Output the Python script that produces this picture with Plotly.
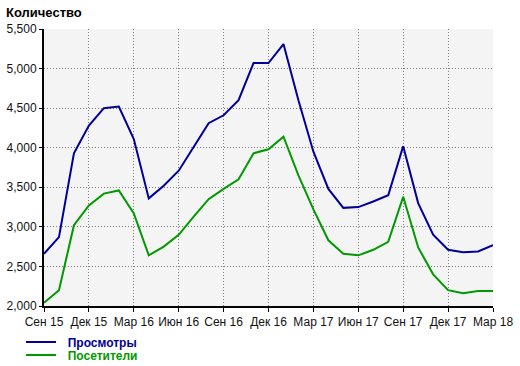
import plotly.graph_objects as go

months = ["2015-09", "2015-10", "2015-11", "2015-12", "2016-01", "2016-02", "2016-03",
          "2016-04", "2016-05", "2016-06", "2016-07", "2016-08", "2016-09", "2016-10",
          "2016-11", "2016-12", "2017-01", "2017-02", "2017-03", "2017-04", "2017-05",
          "2017-06", "2017-07", "2017-08", "2017-09", "2017-10", "2017-11", "2017-12",
          "2018-01", "2018-02", "2018-03"]
tick_labels = ["Сен 15", "Дек 15", "Мар 16", "Июн 16", "Сен 16", "Дек 16",
               "Мар 17", "Июн 17", "Сен 17", "Дек 17", "Мар 18"]

views = [2660, 2870, 3930, 4280, 4500, 4520, 4110, 3360, 3520, 3710, 4010, 4310,
         4410, 4600, 5070, 5070, 5310, 4600, 3950, 3480, 3240, 3250, 3320, 3400,
         4020, 3300, 2900, 2710, 2680, 2690, 2770]
visitors = [2040, 2200, 3020, 3270, 3420, 3460, 3170, 2640, 2750, 2900, 3130, 3350,
            3480, 3600, 3930, 3980, 4140, 3650, 3220, 2830, 2660, 2640, 2710, 2810,
            3380, 2740, 2400, 2200, 2160, 2190, 2190]

BLUE = "#000099"
GREEN = "#009900"
FONT = "Liberation Sans"
W, H = 520, 366
PAD = "\u00a0\u00a0"

fig = go.Figure()
fig.add_trace(go.Scatter(x=months, y=views, mode="lines",
                         line=dict(color=BLUE, width=2),
                         name=f"{PAD}<b><span style='color:{BLUE}'>Просмотры</span></b>",
                         legend="legend"))
fig.add_trace(go.Scatter(x=months, y=visitors, mode="lines",
                         line=dict(color=GREEN, width=2),
                         name=f"{PAD}<b><span style='color:{GREEN}'>Посетители</span></b>",
                         legend="legend2"))

grid = dict(showgrid=True, gridcolor="#808080", griddash="1px,2px", gridwidth=1)

fig.update_layout(
    width=W, height=H,
    margin=dict(l=44, r=27, t=29, b=60, autoexpand=False),
    paper_bgcolor="white",
    plot_bgcolor="#f4f4f4",
    font=dict(family=FONT, size=12, color="#111111"),
    title=dict(text="<b>Количество</b>", font=dict(family=FONT, size=13, color="#000000"),
               xref="container", yref="container", x=6/W, xanchor="left",
               y=1-12/H, yanchor="middle"),
    xaxis=dict(type="category", range=[0, 30], tickmode="array",
               tickvals=months[::3], ticktext=tick_labels, automargin=False,
               showline=True, linecolor="black", linewidth=2,
               ticks="outside", ticklen=4, tickcolor="black", tickwidth=1,
               tickfont=dict(family=FONT, size=12, color="#111111"), **grid),
    yaxis=dict(range=[2000, 5500], dtick=500, tick0=2000, tickformat=",",
               automargin=False,
               showline=True, linecolor="black", linewidth=2,
               ticks="outside", ticklen=3, tickcolor="black", tickwidth=1,
               zeroline=False,
               tickfont=dict(family=FONT, size=12, color="#111111"), **grid),
    legend=dict(xref="container", yref="container", x=21/W, xanchor="left",
                y=1-342/H, yanchor="middle",
                bgcolor="rgba(0,0,0,0)", borderwidth=0,
                font=dict(family=FONT, size=12)),
    legend2=dict(xref="container", yref="container", x=21/W, xanchor="left",
                 y=1-355/H, yanchor="middle",
                 bgcolor="rgba(0,0,0,0)", borderwidth=0,
                 font=dict(family=FONT, size=12)),
    showlegend=True,
)

fig.write_html("out.html", config={"displayModeBar": False},
               post_script="document.body.style.margin='0';document.body.style.overflow='hidden';")
